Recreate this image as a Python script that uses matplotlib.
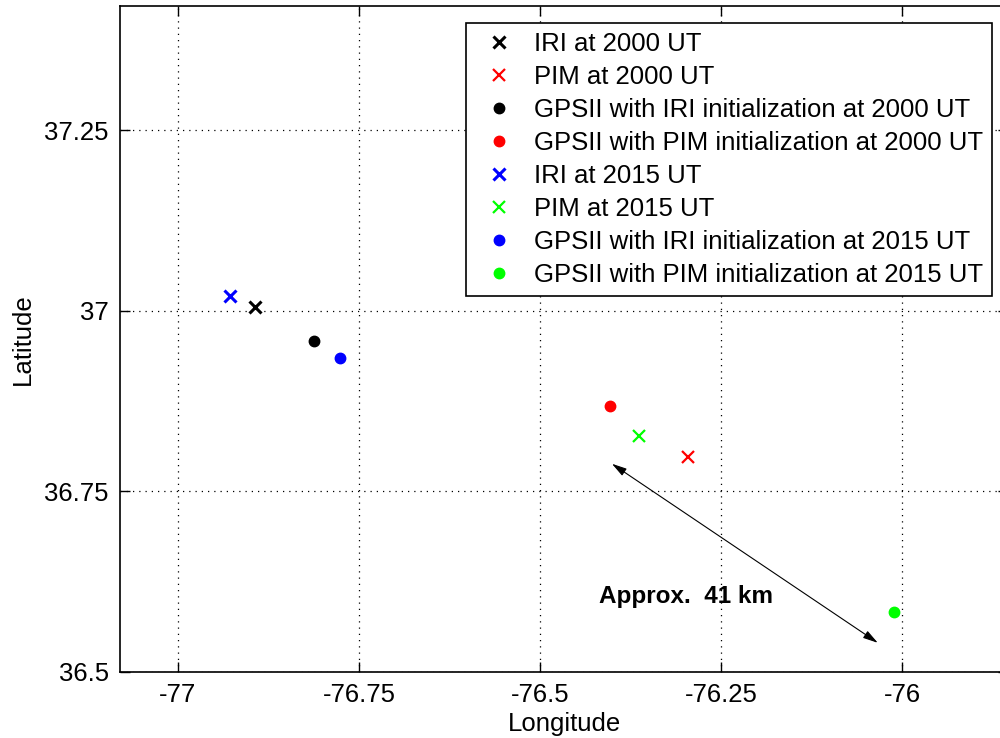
import matplotlib
matplotlib.use('Agg')
import matplotlib.pyplot as plt

plt.rcParams['font.family'] = ['Liberation Sans', 'DejaVu Sans']

# Positions (longitude, latitude)
iriLon = [-76.893, -76.928]
iriLat = [37.005, 37.020]
pimLon = [-76.296, -76.363]
pimLat = [36.798, 36.827]
gpsIriLon = [-76.812, -76.777]
gpsIriLat = [36.958, 36.934]
gpsPimLon = [-76.403, -76.011]
gpsPimLat = [36.868, 36.583]
times = ['2000', '2015']
colorsIri = ['black', 'blue']
colorsPim = ['red', '#00ff00']

arrowStart = (-76.401, 36.788)
arrowEnd = (-76.034, 36.540)
arrowLabel = 'Approx.  41 km'
labelPos = (-76.419, 36.604)

xTicks = [-77, -76.75, -76.5, -76.25, -76]
xTickLabels = ['-77', '-76.75', '-76.5', '-76.25', '-76']
yTicks = [36.5, 36.75, 37, 37.25]
yTickLabels = ['36.5', '36.75', '37', '37.25']

fig = plt.figure(figsize=(10, 7.38), dpi=100)
ax = fig.add_axes([0.12, 1 - 671.7 / 738, 0.8882, 665.7 / 738])

handles = []
labels = []
for i in range(2):
    h1, = ax.plot(iriLon[i], iriLat[i], 'x', color=colorsIri[i], markersize=9, markeredgewidth=2.2)
    h2, = ax.plot(pimLon[i], pimLat[i], 'x', color=colorsPim[i], markersize=9, markeredgewidth=1.6)
    h3, = ax.plot(gpsIriLon[i], gpsIriLat[i], 'o', color=colorsIri[i], markersize=7.5)
    h4, = ax.plot(gpsPimLon[i], gpsPimLat[i], 'o', color=colorsPim[i], markersize=7.5)
    handles += [h1, h2, h3, h4]
    labels += ['IRI at %s UT' % times[i], 'PIM at %s UT' % times[i],
               'GPSII with IRI initialization at %s UT' % times[i],
               'GPSII with PIM initialization at %s UT' % times[i]]

ax.annotate('', xy=arrowEnd, xytext=arrowStart,
            arrowprops=dict(arrowstyle='<|-|>,head_length=0.9,head_width=0.25',
                            color='black', lw=0.8, shrinkA=0, shrinkB=0))
ax.text(labelPos[0], labelPos[1], arrowLabel, fontsize=17.5, fontweight='bold', va='center', ha='left')

ax.set_xlim(-77.080, -75.854)
ax.set_ylim(36.5, 37.422)
ax.set_xticks(xTicks)
ax.set_xticklabels(xTickLabels)
ax.set_yticks(yTicks)
ax.set_yticklabels(yTickLabels)
ax.tick_params(direction='in', length=7, width=1, top=True, right=True, labelsize=18.5, pad=8)
ax.grid(True, linestyle=(0, (1, 4)), color='black', linewidth=0.9)
for s in ax.spines.values():
    s.set_linewidth(1.2)

ax.set_xlabel('Longitude', fontsize=18.5, labelpad=4)
ax.set_ylabel('Latitude', fontsize=18.5, labelpad=7)

leg = ax.legend(handles, labels, loc='upper right',
                bbox_to_anchor=((992 - 120) / 888.2, 1 - (23 - 6) / 665.7),
                borderaxespad=0, fontsize=18.5, fancybox=False, framealpha=1,
                edgecolor='black', handlelength=1.9, handletextpad=0.4,
                labelspacing=0.35, borderpad=0.35)
leg.get_frame().set_linewidth(1.2)

plt.savefig('out.png', dpi=100)
